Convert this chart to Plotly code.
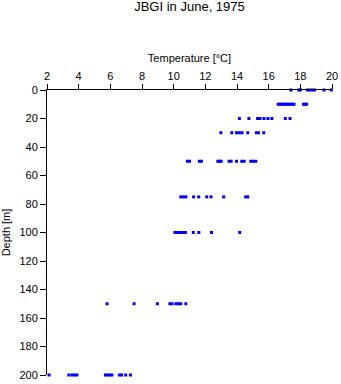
import plotly.graph_objects as go

# Temperature readings [°C] at each sampling depth [m]
temp_0m = [17.4, 17.9, 18.0, 18.45, 18.6, 18.75, 18.9, 19.5, 19.95]
temp_10m = [16.6, 16.7, 16.8, 16.9, 17.0, 17.1, 17.2, 17.3, 17.4, 17.5, 17.6, 18.2, 18.3, 18.4]
temp_20m = [14.15, 14.75, 15.3, 15.45, 15.7, 15.95, 16.2, 17.05, 17.35]
temp_30m = [12.98, 13.67, 13.97, 14.15, 14.32, 14.68, 15.22, 15.36, 15.69]
temp_50m = [10.87, 11.0, 11.62, 11.75, 12.79, 12.9, 13.0, 13.5, 13.63, 13.97, 14.3, 14.45, 14.87, 15.03, 15.19]
temp_75m = [10.45, 10.61, 10.77, 11.26, 11.58, 12.09, 12.36, 13.16, 14.55, 14.68]
temp_100m = [10.08, 10.21, 10.33, 10.46, 10.62, 10.74, 11.24, 11.59, 12.39, 14.17]
temp_150m = [5.79, 7.5, 8.97, 9.76, 9.9, 10.14, 10.3, 10.45, 10.77]
temp_200m = [2.13, 3.38, 3.58, 3.74, 3.89, 5.69, 5.82, 5.98, 6.1, 6.57, 6.71, 6.97, 7.27]

depths = [0, 10, 20, 30, 50, 75, 100, 150, 200]
profiles = [temp_0m, temp_10m, temp_20m, temp_30m, temp_50m,
            temp_75m, temp_100m, temp_150m, temp_200m]

x_ticks = [2, 4, 6, 8, 10, 12, 14, 16, 18, 20]
y_ticks = [0, 20, 40, 60, 80, 100, 120, 140, 160, 180, 200]

xs, ys = [], []
for d, temps in zip(depths, profiles):
    xs.extend(temps)
    ys.extend([d] * len(temps))

font = "Liberation Sans, Arial, Helvetica, sans-serif"

fig = go.Figure(
    go.Scatter(
        x=xs, y=ys, mode="markers",
        marker=dict(symbol="square", size=3, color="#0000ff", line=dict(width=0)),
        cliponaxis=False,
        hoverinfo="x+y",
    )
)

fig.update_layout(
    width=341, height=384,
    margin=dict(l=47, r=9, t=90, b=9, autoexpand=False),
    paper_bgcolor="white", plot_bgcolor="white",
    showlegend=False,
    font=dict(family=font, size=11, color="black"),
    title=dict(
        text="JBGI in June, 1975",
        x=0.5, xref="paper", xanchor="center",
        y=0.995, yref="container", yanchor="top",
        font=dict(family=font, size=13, color="black"),
    ),
)

fig.update_xaxes(
    side="top", range=[2, 20], tickvals=x_ticks,
    showline=True, linecolor="black", linewidth=1,
    ticks="outside", ticklen=5, tickcolor="black", tickwidth=1,
    showgrid=False, zeroline=False, automargin=False,
    title=dict(text="Temperature [°C]", standoff=4, font=dict(size=11)),
    tickfont=dict(size=11),
)

fig.update_yaxes(
    range=[200, 0], tickvals=y_ticks,
    showline=True, linecolor="black", linewidth=1,
    ticks="outside", ticklen=6, tickcolor="black", tickwidth=1,
    showgrid=False, zeroline=False, automargin=False,
    title=dict(text="Depth [m]", standoff=6, font=dict(size=11)),
    tickfont=dict(size=11),
)

fig.write_html("out.html")
